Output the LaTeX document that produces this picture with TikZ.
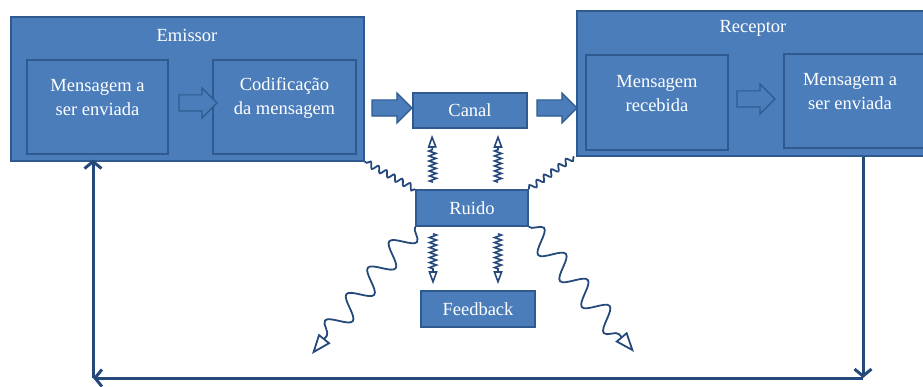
\documentclass[tikz,border=0pt]{standalone}
\usepackage{fontspec}
\setmainfont{Liberation Serif}
\usepackage{tikz}
\usepackage{xcolor}
\usetikzlibrary{positioning,shapes,shapes.arrows,arrows.meta,decorations.pathmorphing}
\definecolor{boxfill}{HTML}{4B7DBA}
\definecolor{boxline}{HTML}{2E5A8F}
\definecolor{wire}{HTML}{26497C}

\begin{document}
\begin{tikzpicture}[x=1pt,y=-1pt,
  frame/.style={draw=boxline,fill=boxfill,line width=1.6pt,anchor=north west},
  part/.style={draw=boxline,fill=boxfill,line width=1.6pt,text=white,align=center,
    font=\fontsize{18.5}{24}\selectfont},
  title/.style={text=white,align=center,font=\fontsize{18.5}{24}\selectfont},
  barrow/.style={single arrow,draw=boxline,fill=boxfill,line width=1.2pt,
    minimum height=38pt,minimum width=30pt,inner ysep=7.5pt,single arrow head extend=7pt},
  squig/.style={wire,line width=1.6pt,decorate,
    decoration={zigzag,amplitude=3.5pt,segment length=5pt,post length=14pt}},
  wavy/.style={wire,line width=1.8pt,decorate,
    decoration={snake,amplitude=11pt,segment length=34pt,post length=20pt}},
  fuzz/.style={wire,line width=1.8pt,decorate,
    decoration={snake,amplitude=3pt,segment length=9pt}},
  loopline/.style={wire,line width=3pt,-{Straight Barb[length=7pt,width=17pt,line width=3pt]}},
  tip/.style={-{Triangle[open,fill=white,length=20pt,width=15pt,line width=1.8pt]}},
  smalltip/.style={-{Triangle[open,fill=white,length=13pt,width=9pt,line width=1.6pt]}}]
\tikzstyle{every node}+=[inner sep=0pt]
\useasboundingbox (0,0) rectangle (923,387);

\node[frame,minimum width=353pt,minimum height=144pt] (emissor) at (10,16) {};
\node[title] (emissorname) at (187,35) {Emissor};
\node[part,minimum width=141pt,minimum height=94pt] (msg) at (97.5,107) {};
\node[title] (msgtext) at ([yshift=9pt]msg.center) {Mensagem a\\ser enviada};
\node[part,minimum width=143pt,minimum height=94pt] (cod) at (284.5,107) {};
\node[title] (codtext) at ([yshift=9pt]cod.center) {Codifica\c{c}\~ao\\da mensagem};
\node[barrow] (a1) at (194,103) {};

\node[frame,minimum width=370pt,minimum height=145pt] (receptor) at (576,10) {};
\node[title] (receptorname) at (753,28) {Receptor};
\node[part,minimum width=142pt,minimum height=95pt] (rec) at (657,102.5) {};
\node[title] (rectext) at ([yshift=9pt]rec.center) {Mensagem\\recebida};
\node[part,minimum width=160pt,minimum height=94pt,anchor=north west] (resp) at (783,53) {};
\node[title] (resptext) at (850,92) {Mensagem a\\ser enviada};
\node[barrow] (a4) at (752,99) {};

\node[part,minimum width=114pt,minimum height=35pt] (canal) at (470,110.5) {Canal};
\node[part,minimum width=112pt,minimum height=36pt] (ruido) at (472,208) {Ruido};
\node[part,minimum width=114pt,minimum height=36pt] (feedback) at (478,309) {Feedback};
\node[barrow,minimum height=40pt] (a2) at (388,108) {};
\node[barrow,minimum height=40pt] (a3) at (553,108) {};

\draw[squig,smalltip] ([xshift=-39pt,yshift=7pt]ruido.north) -- ([xshift=-38pt,yshift=-6pt]canal.south);
\draw[squig,smalltip] ([xshift=26pt,yshift=7pt]ruido.north) -- ([xshift=28pt,yshift=-6pt]canal.south);
\draw[squig,smalltip] ([xshift=-39pt,yshift=-7pt]ruido.south) -- ([xshift=-45pt,yshift=6pt]feedback.north);
\draw[squig,smalltip] ([xshift=26pt,yshift=-7pt]ruido.south) -- ([xshift=20pt,yshift=6pt]feedback.north);

\draw[fuzz] (ruido.north west) -- (emissor.south east);
\draw[fuzz] (ruido.north east) -- ([xshift=-2pt]receptor.south west);

\coordinate (leftend) at (312,354);
\coordinate (rightend) at (634,352);
\draw[wavy,tip] (ruido.south west) -- (leftend);
\draw[wavy,tip] (ruido.south east) -- (rightend);

\coordinate (br) at (863,378);
\coordinate (bl) at (93,378);
\draw[loopline] (receptor.south -| br) -- (br);
\draw[loopline] (br) -- (bl);
\draw[loopline] (bl) -- ([yshift=2pt]emissor.south -| bl);
\end{tikzpicture}
\end{document}
